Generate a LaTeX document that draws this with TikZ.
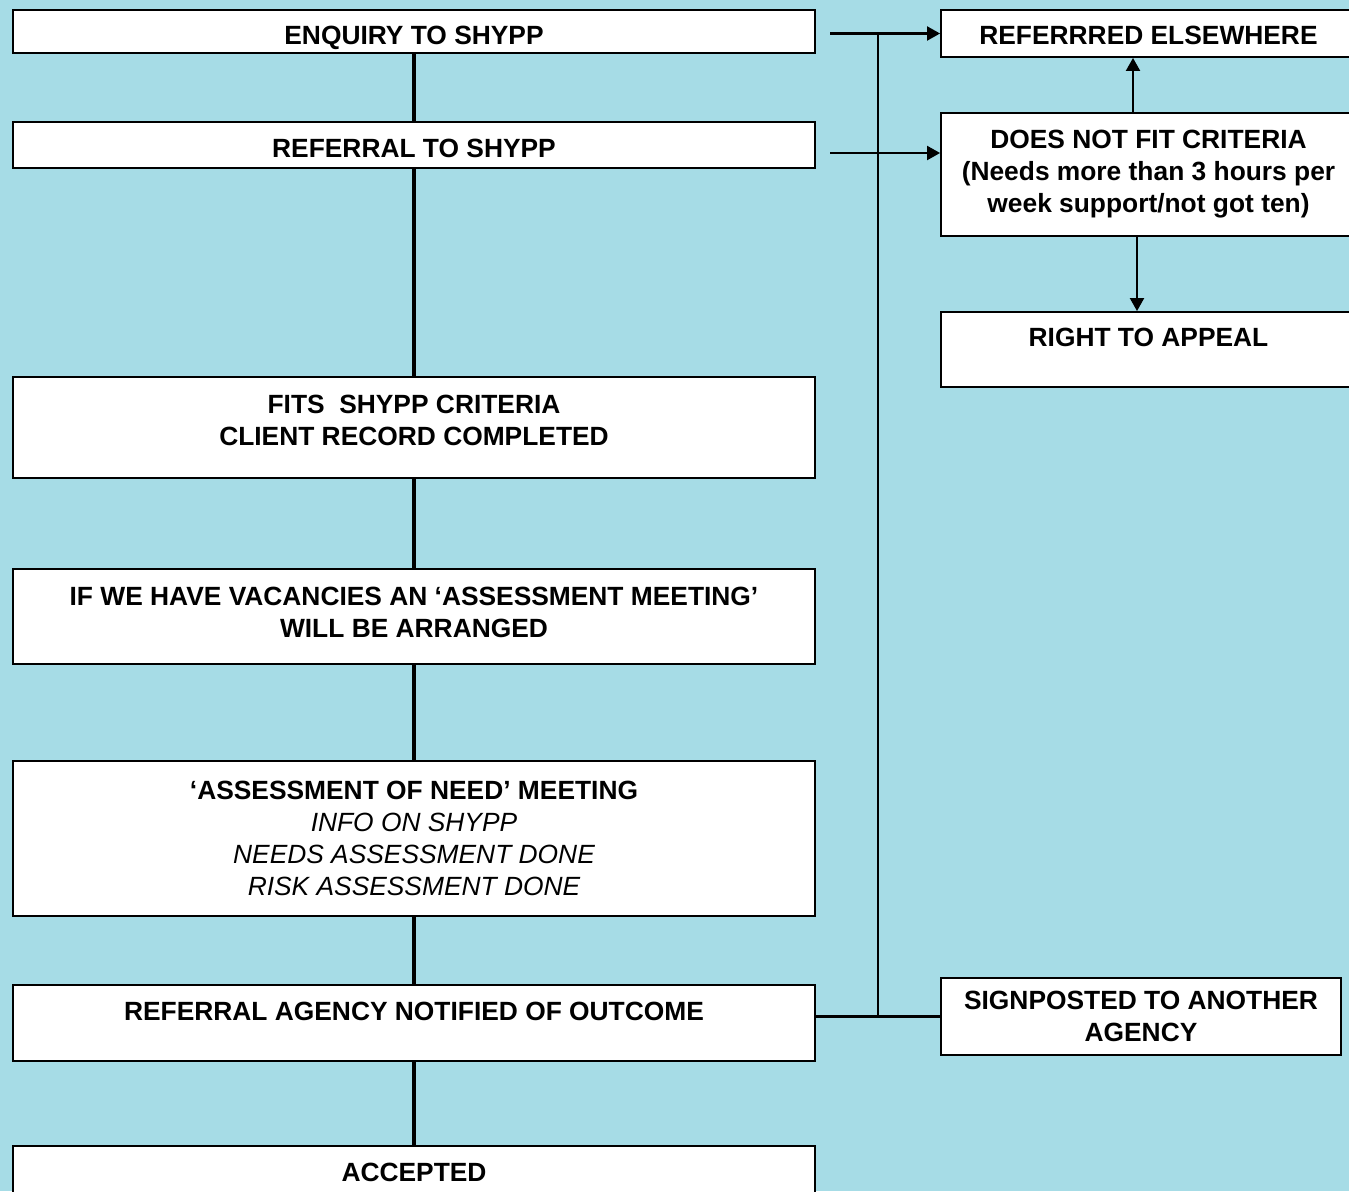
\documentclass[tikz,border=0pt]{standalone}
\usepackage{fontspec}
\setmainfont{Liberation Sans}
\usetikzlibrary{calc,arrows.meta}
\definecolor{water}{RGB}{166,220,230}
\tikzset{
    stage/.style={draw=black,line width=1.1pt,fill=white,inner sep=0pt,
        minimum width=16.04cm,align=center,
        font=\bfseries\fontsize{15}{18.2}\selectfont},
    side/.style={stage,minimum width=8.3cm},
    high/.style={text height=0.33cm,text depth=0.45cm},
    low/.style={text height=0.58cm,text depth=0.08cm},
    spine/.style={line width=2.8pt},
    link/.style={line width=1.2pt},
    arr/.style={link,-{Triangle[length=0.26cm,width=0.28cm]}}
}

\begin{document}
\begin{tikzpicture}[x=0.02cm,y=-0.02cm]
\useasboundingbox (0,0) rectangle (1349,1191);
\clip (0,0) rectangle (1349,1191);
\fill[water] (0,0) rectangle (1349,1191);

% main column
\node[stage,low,minimum height=0.86cm] (enq) at (414,31.5) {ENQUIRY TO SHYPP};
\node[stage,low,minimum height=0.92cm] (ref) at (414,145) {REFERRAL TO SHYPP};
\node[stage,text height=0.8cm,text depth=0.084cm,minimum height=2.02cm] (fits) at (414,427.5) {FITS\ \ SHYPP CRITERIA\\CLIENT RECORD COMPLETED};
\node[stage,text height=0.9cm,text depth=0.064cm,minimum height=1.9cm] (vac) at (414,616.5) {IF WE HAVE VACANCIES AN ‘ASSESSMENT MEETING’\\WILL BE ARRANGED};
\node[stage,minimum height=3.1cm] (need) at (414,838.5) {‘ASSESSMENT OF NEED’ MEETING\\
    \mdseries\itshape INFO ON SHYPP\\\mdseries\itshape NEEDS ASSESSMENT DONE\\\mdseries\itshape RISK ASSESSMENT DONE};
\node[stage,high,minimum height=1.52cm] (agency) at (414,1023) {REFERRAL AGENCY NOTIFIED OF OUTCOME};
\node[stage,high,minimum height=1.52cm] (acc) at (414,1184) {ACCEPTED};

% right column
\node[side,text height=0.52cm,text depth=0.08cm,minimum height=0.94cm] (refd) at (1148.5,33.5) {REFERRRED ELSEWHERE};
\node[side,minimum height=2.46cm] (nofit) at (1148.5,174.5) {DOES NOT FIT CRITERIA\\(Needs more than 3 hours per\\week support/not got ten)};
\node[side,high,minimum height=1.5cm] (appeal) at (1148.5,349.5) {RIGHT TO APPEAL};
\node[side,minimum width=8cm,minimum height=1.54cm] (sign) at (1141,1016.5) {SIGNPOSTED TO ANOTHER\\AGENCY};

\foreach \a/\b in {enq/ref,ref/fits,fits/vac,vac/need,need/agency,agency/acc}
    \draw[spine] (\a.south) -- (\b.north);

\coordinate (e1) at (830,33.5);
\coordinate (e2) at (830,153);
\coordinate (jn) at (878,33.5);
\draw[arr] (e1) -- (refd.west);
\draw[arr] (e2) -- (e2 -| nofit.west);
\draw[link] (sign.west -| agency.east) -- (sign.west);
\draw[link] (jn) -- (jn |- sign.west);
\draw[arr] (nofit.north -| 1133,0) -- (refd.south -| 1133,0);
\draw[arr] (nofit.south -| 1137,0) -- (appeal.north -| 1137,0);
\end{tikzpicture}
\end{document}
